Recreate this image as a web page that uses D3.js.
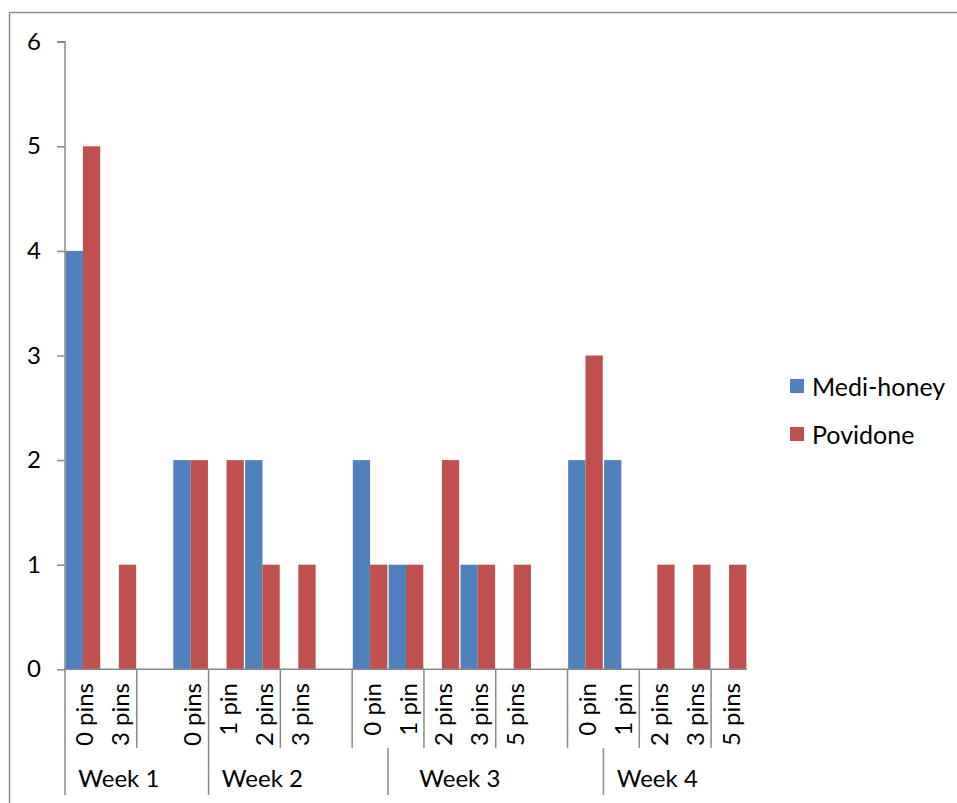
<!DOCTYPE html>
<html>
<head>
<meta charset="utf-8">
<script src="https://cdn.jsdelivr.net/npm/d3@7/dist/d3.min.js"></script>
<style>
  html, body { margin: 0; padding: 0; background: #fff; }
  svg { display: block; font-family: Lato, "Open Sans", sans-serif; }
</style>
</head>
<body>
<svg id="chart" width="957" height="803"></svg>
<script>
// ---- data ----
const pinLabels = ["0 pins","3 pins","","0 pins","1 pin","2 pins","3 pins","","0 pin","1 pin","2 pins","3 pins","5 pins","","0 pin","1 pin","2 pins","3 pins","5 pins"];
const weekOf    = [0,0,0,1,1,1,1,1,2,2,2,2,2,2,3,3,3,3,3];
const weekLabels = ["Week 1","Week 2","Week 3","Week 4"];
const seriesNames = ["Medi-honey","Povidone"];
const mediHoney = [4,0,null,2,0,2,0,null,2,1,0,1,0,null,2,2,0,0,0];
const povidone  = [5,1,null,2,2,1,1,null,1,1,2,1,1,null,3,0,1,1,1];
const yTicks = [0,1,2,3,4,5,6];
// separators drawn by the original chart (category boundary indices)
const pinSeparators = [0,2,4,6,8,10,12,14,16,18];
const weekSeparators = [0,4,9,15];

const colors = ["#4F81BD","#C0504D"];
const axisColor = "#898989";
const fs = 24;

const svg = d3.select("#chart");

// outer border
svg.append("rect").attr("x",9.5).attr("y",12.5).attr("width",1000).attr("height",900)
  .attr("fill","none").attr("stroke","#8c8c8c").attr("stroke-width",1.5);

const plotLeft = 65, plotRight = 747, plotTop = 41.7, plotBottom = 669.3;
const idx = pinLabels.map((d,i)=>i);
const x = d3.scaleBand().domain(idx).range([plotLeft,plotRight]).padding(0);
const xs = d3.scaleBand().domain([0,1]).range([0,x.bandwidth()]).paddingInner(0).paddingOuter(0.0375);
const y = d3.scaleLinear().domain([0,6]).range([plotBottom,plotTop]);

// bars
const seriesVals = [mediHoney, povidone];
seriesVals.forEach((vals,s)=>{
  svg.append("g").selectAll("rect").data(idx.filter(i=>vals[i])).join("rect")
    .attr("x",i=>x(i)+xs(s)).attr("width",xs.bandwidth())
    .attr("y",i=>y(vals[i])).attr("height",i=>y(0)-y(vals[i]))
    .attr("fill",colors[s]);
});

// y axis
const yAxis = d3.axisLeft(y).tickValues(yTicks).tickSize(8).tickPadding(16).tickFormat(d3.format("d"));
const gy = svg.append("g").attr("transform",`translate(${plotLeft},0)`).call(yAxis);
gy.select(".domain").attr("stroke",axisColor).attr("stroke-width",1.5).attr("d",`M-8,${plotTop}H0V${plotBottom}`);
gy.selectAll(".tick line").attr("stroke",axisColor).attr("stroke-width",1.5);
gy.selectAll(".tick text").attr("font-size",fs).attr("fill","#000").attr("font-family","Lato, sans-serif");

// x axis line
svg.append("line").attr("x1",plotLeft).attr("x2",plotRight).attr("y1",plotBottom).attr("y2",plotBottom)
  .attr("stroke",axisColor).attr("stroke-width",1.5);

// category label separators (row 1)
const bx = i => x.range()[0] + i * x.step();
svg.append("g").selectAll("line").data(pinSeparators).join("line")
  .attr("x1",i=>bx(i)).attr("x2",i=>bx(i)).attr("y1",plotBottom).attr("y2",748)
  .attr("stroke",axisColor).attr("stroke-width",1.5);
// week separators (row 2)
svg.append("g").selectAll("line").data(weekSeparators).join("line")
  .attr("x1",i=>bx(i)).attr("x2",i=>bx(i)).attr("y1",748).attr("y2",795)
  .attr("stroke",axisColor).attr("stroke-width",1.5);

// pin labels (rotated)
svg.append("g").selectAll("text").data(idx.filter(i=>pinLabels[i])).join("text")
  .attr("transform",i=>`translate(${x(i)+x.bandwidth()/2+1},683) rotate(-90)`)
  .attr("text-anchor","end").attr("dominant-baseline","central")
  .attr("font-size",fs).attr("fill","#000")
  .text(i=>pinLabels[i]);

// week labels centered over their categories
weekLabels.forEach((w,k)=>{
  const cats = idx.filter(i=>weekOf[i]===k);
  const cx = (x(cats[0]) + x(cats[cats.length-1]) + x.bandwidth())/2;
  svg.append("text").attr("x",cx).attr("y",787).attr("text-anchor","middle")
    .attr("font-size",fs).attr("fill","#000").text(w);
});

// legend
const lg = svg.append("g").attr("transform","translate(790,379)");
seriesNames.forEach((n,s)=>{
  const g = lg.append("g").attr("transform",`translate(0,${s*48})`);
  g.append("rect").attr("width",14).attr("height",14).attr("fill",colors[s]);
  g.append("text").attr("x",22).attr("y",7).attr("dominant-baseline","central")
    .attr("font-size",fs+1).attr("fill","#000").text(n);
});
</script>
</body>
</html>
